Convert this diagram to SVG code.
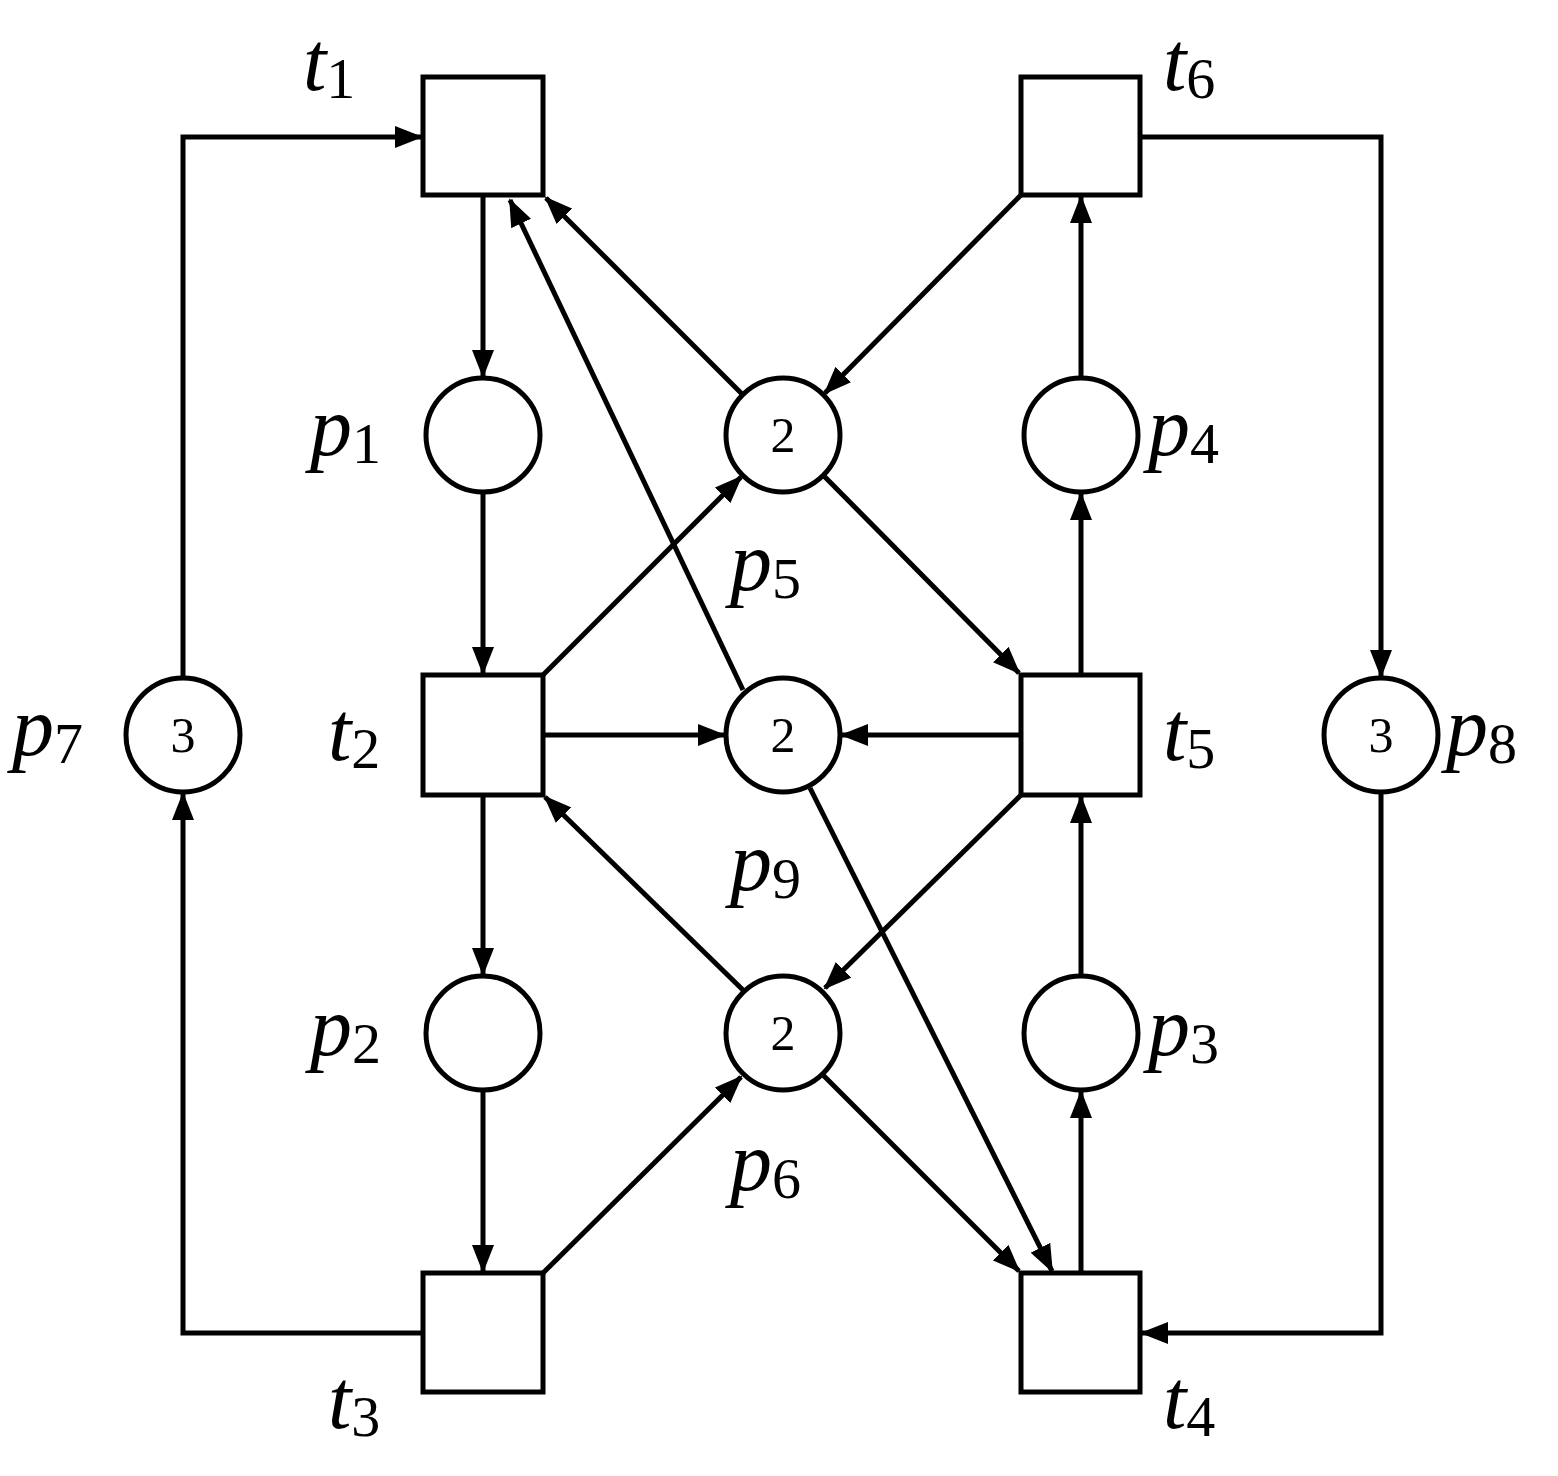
<svg xmlns="http://www.w3.org/2000/svg" width="1558" height="1476" viewBox="0 0 1558 1476">
<style>
.n{fill:#fff;stroke:#000;stroke-width:5}
.e{fill:none;stroke:#000;stroke-width:5;marker-end:url(#a)}
.l{font-family:"Liberation Serif",serif;font-style:italic;font-size:84px}
.s{font-size:58px;font-style:normal}
.k{font-family:"Liberation Serif",serif;font-size:50px;text-anchor:middle}
</style>
<defs><marker id="a" markerUnits="userSpaceOnUse" markerWidth="28" markerHeight="22" refX="26" refY="11" orient="auto"><path d="M0,0L28,11L0,22z"/></marker></defs>
<rect width="1558" height="1476" fill="#fff"/>
<g id="connectors">
<path class="e" d="M183,678V137H421"/>
<path class="e" d="M423,1333H183V794"/>
<path class="e" d="M1140,137H1381V676"/>
<path class="e" d="M1381,792V1333H1142"/>
<path class="e" d="M483,197V376"/>
<path class="e" d="M483,492V673"/>
<path class="e" d="M483,795V974"/>
<path class="e" d="M483,1090V1271"/>
<path class="e" d="M743,395L546,198"/>
<path class="e" d="M1021,195L825,393"/>
<path class="e" d="M543,675L741,477"/>
<path class="e" d="M823,475L1019,673"/>
<path class="e" d="M1081,675V494"/>
<path class="e" d="M1081,378V197"/>
<path class="e" d="M543,735H724"/>
<path class="e" d="M1021,735H842"/>
<path class="e" d="M743,690L510,200"/>
<path class="e" d="M810,788L1052,1271"/>
<path class="e" d="M743,990L545,797"/>
<path class="e" d="M1021,795L825,988"/>
<path class="e" d="M543,1273L741,1077"/>
<path class="e" d="M823,1075L1019,1271"/>
<path class="e" d="M1081,1273V1092"/>
<path class="e" d="M1081,976V797"/>
</g>
<g id="t1"><rect class="n" x="423" y="77" width="120" height="118"/><text class="l" x="303" y="90">t<tspan class="s" dy="8">1</tspan></text></g>
<g id="t6"><rect class="n" x="1021" y="77" width="119" height="118"/><text class="l" x="1163" y="90">t<tspan class="s" dy="8">6</tspan></text></g>
<g id="t2"><rect class="n" x="423" y="675" width="120" height="120"/><text class="l" x="328" y="760">t<tspan class="s" dy="8">2</tspan></text></g>
<g id="t5"><rect class="n" x="1021" y="675" width="119" height="120"/><text class="l" x="1163" y="760">t<tspan class="s" dy="8">5</tspan></text></g>
<g id="t3"><rect class="n" x="423" y="1273" width="120" height="119"/><text class="l" x="328" y="1428">t<tspan class="s" dy="8">3</tspan></text></g>
<g id="t4"><rect class="n" x="1021" y="1273" width="119" height="119"/><text class="l" x="1163" y="1428">t<tspan class="s" dy="8">4</tspan></text></g>
<g id="p1"><circle class="n" cx="483" cy="435" r="57"/><text class="l" x="310" y="455">p<tspan class="s" dy="8">1</tspan></text></g>
<g id="p5"><circle class="n" cx="783" cy="435" r="57"/><text class="k" x="783" y="452">2</text><text class="l" x="730" y="590">p<tspan class="s" dy="8">5</tspan></text></g>
<g id="p4"><circle class="n" cx="1081" cy="435" r="57"/><text class="l" x="1148" y="455">p<tspan class="s" dy="8">4</tspan></text></g>
<g id="p7"><circle class="n" cx="183" cy="735" r="57"/><text class="k" x="183" y="752">3</text><text class="l" x="12" y="755">p<tspan class="s" dy="8">7</tspan></text></g>
<g id="p9"><circle class="n" cx="783" cy="735" r="57"/><text class="k" x="783" y="752">2</text><text class="l" x="730" y="890">p<tspan class="s" dy="8">9</tspan></text></g>
<g id="p8"><circle class="n" cx="1381" cy="735" r="57"/><text class="k" x="1381" y="752">3</text><text class="l" x="1446" y="755">p<tspan class="s" dy="8">8</tspan></text></g>
<g id="p2"><circle class="n" cx="483" cy="1033" r="57"/><text class="l" x="310" y="1055">p<tspan class="s" dy="8">2</tspan></text></g>
<g id="p6"><circle class="n" cx="783" cy="1033" r="57"/><text class="k" x="783" y="1050">2</text><text class="l" x="730" y="1190">p<tspan class="s" dy="8">6</tspan></text></g>
<g id="p3"><circle class="n" cx="1081" cy="1033" r="57"/><text class="l" x="1148" y="1055">p<tspan class="s" dy="8">3</tspan></text></g>
</svg>
